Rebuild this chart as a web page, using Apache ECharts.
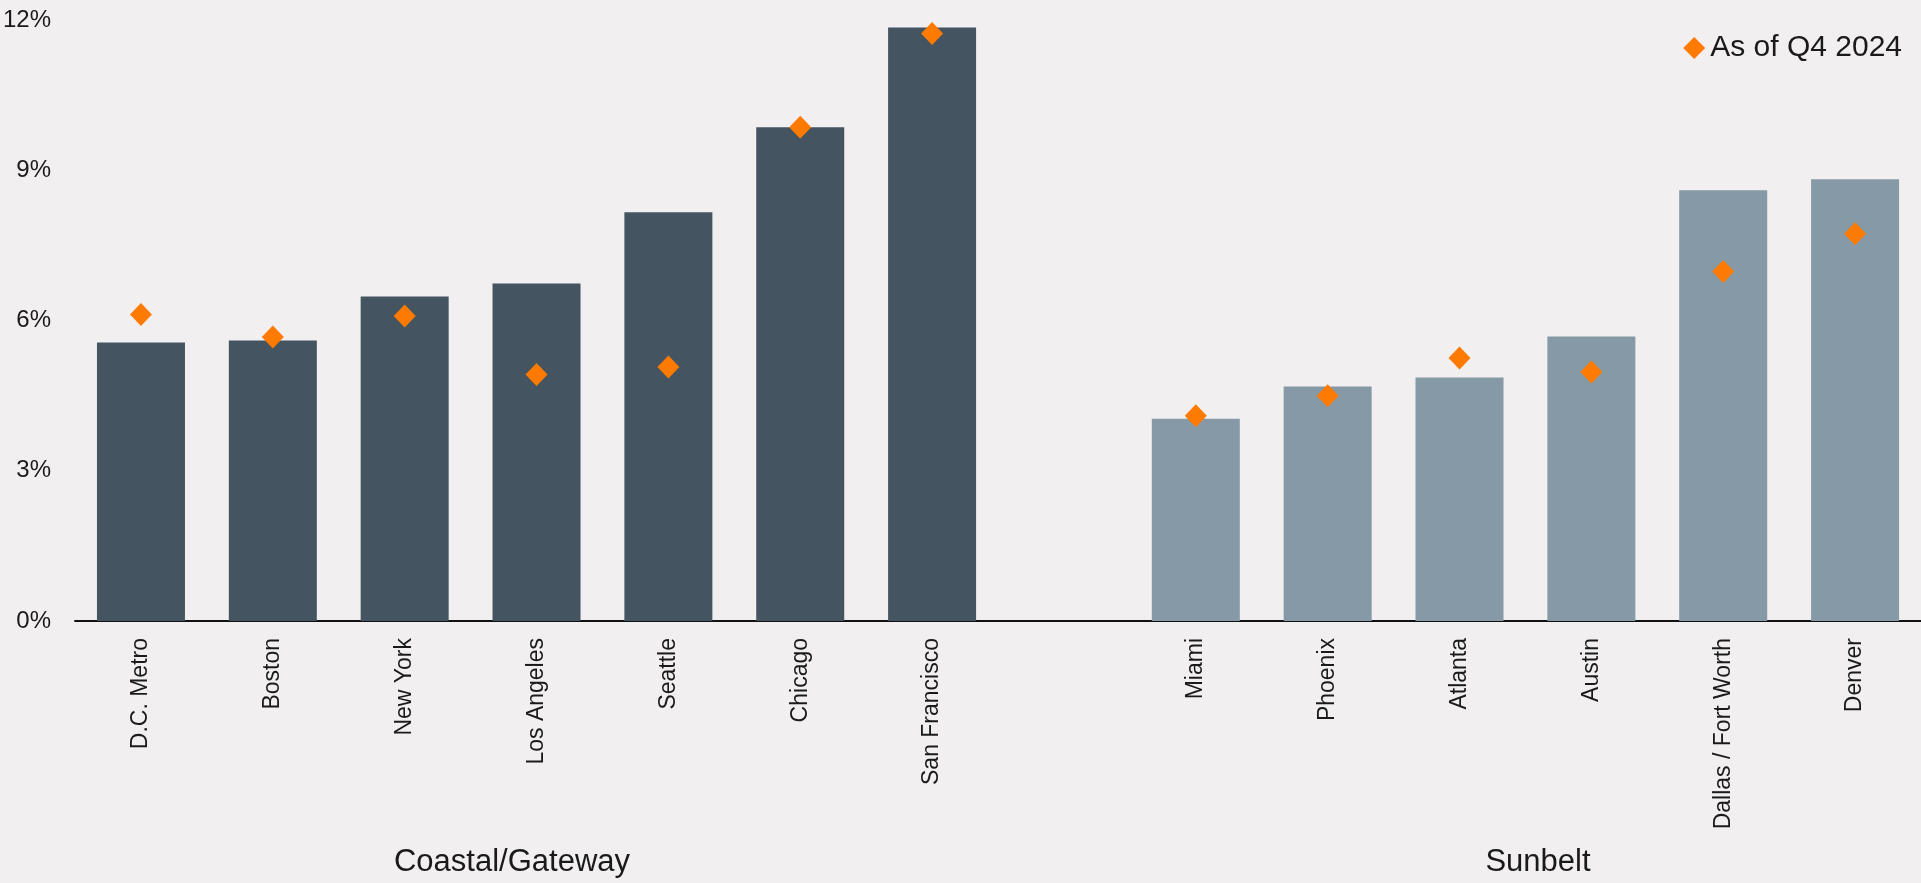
<!DOCTYPE html>
<html>
<head>
<meta charset="utf-8">
<script src="https://cdn.jsdelivr.net/npm/echarts@6/dist/echarts.min.js"></script>
<style>
  html, body { margin: 0; padding: 0; background: #f1eff0; }
  #chart { width: 1921px; height: 883px; }
</style>
</head>
<body>
<div id="chart"></div>
<script>
// categories (empty slot separates the two groups)
var coastalCities = ['D.C. Metro', 'Boston', 'New York', 'Los Angeles', 'Seattle', 'Chicago', 'San Francisco'];
var sunbeltCities = ['Miami', 'Phoenix', 'Atlanta', 'Austin', 'Dallas / Fort Worth', 'Denver'];

// bar values (%)
var coastalBars = [5.56, 5.6, 6.48, 6.74, 8.16, 9.86, 11.85];
var sunbeltBars = [4.04, 4.68, 4.86, 5.68, 8.6, 8.82];

// As of Q4 2024 (%)
var coastalQ4 = [6.12, 5.67, 6.09, 4.92, 5.07, 9.86, 11.73];
var sunbeltQ4 = [4.1, 4.5, 5.25, 4.97, 6.98, 7.73];

var yTicks = [0, 3, 6, 9, 12];

var DARK = '#455461';
var LIGHT = '#8599a6';
var ORANGE = '#ff7a00';
var FONT = 'Liberation Sans';

var categories = coastalCities.concat(['']).concat(sunbeltCities);

var barData = [];
coastalBars.forEach(function (v) {
  barData.push({ value: v, itemStyle: { color: DARK } });
});
barData.push('-');
sunbeltBars.forEach(function (v) {
  barData.push({ value: v, itemStyle: { color: LIGHT } });
});

var q4Data = coastalQ4.concat(['-']).concat(sunbeltQ4);

var chart = echarts.init(document.getElementById('chart'));

var option = {
  backgroundColor: '#f1eff0',
  animation: false,
  textStyle: { fontFamily: FONT },
  grid: {
    left: 75,
    right: 0,
    top: 20,
    bottom: 262,
    containLabel: false
  },
  legend: {
    data: [{ name: 'As of Q4 2024', icon: 'diamond', itemStyle: { opacity: 1 } }],
    right: 14,
    top: 28,
    itemWidth: 22,
    itemHeight: 22,
    itemGap: 6,
    textStyle: { fontSize: 30, color: '#1a1a1a', fontFamily: FONT }
  },
  xAxis: {
    type: 'category',
    data: categories,
    axisLine: { show: true, lineStyle: { color: '#111', width: 2 } },
    axisTick: { show: false },
    axisLabel: {
      rotate: 90,
      margin: 17,
      fontSize: 23,
      color: '#1a1a1a',
      interval: 0
    }
  },
  yAxis: {
    type: 'value',
    min: yTicks[0],
    max: yTicks[yTicks.length - 1],
    interval: 3,
    splitLine: { show: false },
    axisLine: { show: false },
    axisTick: { show: false },
    axisLabel: {
      margin: 24,
      fontSize: 24,
      color: '#1a1a1a',
      formatter: '{value}%'
    }
  },
  graphic: [
    {
      type: 'text',
      x: 512,
      y: 862,
      style: {
        text: 'Coastal/Gateway',
        fontSize: 31,
        fontFamily: FONT,
        fill: '#1a1a1a',
        align: 'center',
        verticalAlign: 'middle'
      }
    },
    {
      type: 'text',
      x: 1538,
      y: 862,
      style: {
        text: 'Sunbelt',
        fontSize: 31,
        fontFamily: FONT,
        fill: '#1a1a1a',
        align: 'center',
        verticalAlign: 'middle'
      }
    }
  ],
  series: [
    {
      name: 'Rate',
      type: 'bar',
      barWidth: 88,
      data: barData
    },
    {
      name: 'As of Q4 2024',
      type: 'scatter',
      symbol: 'diamond',
      symbolSize: [22, 23],
      itemStyle: { color: ORANGE, opacity: 1 },
      z: 5,
      data: q4Data
    }
  ]
};

chart.setOption(option);
</script>
</body>
</html>
